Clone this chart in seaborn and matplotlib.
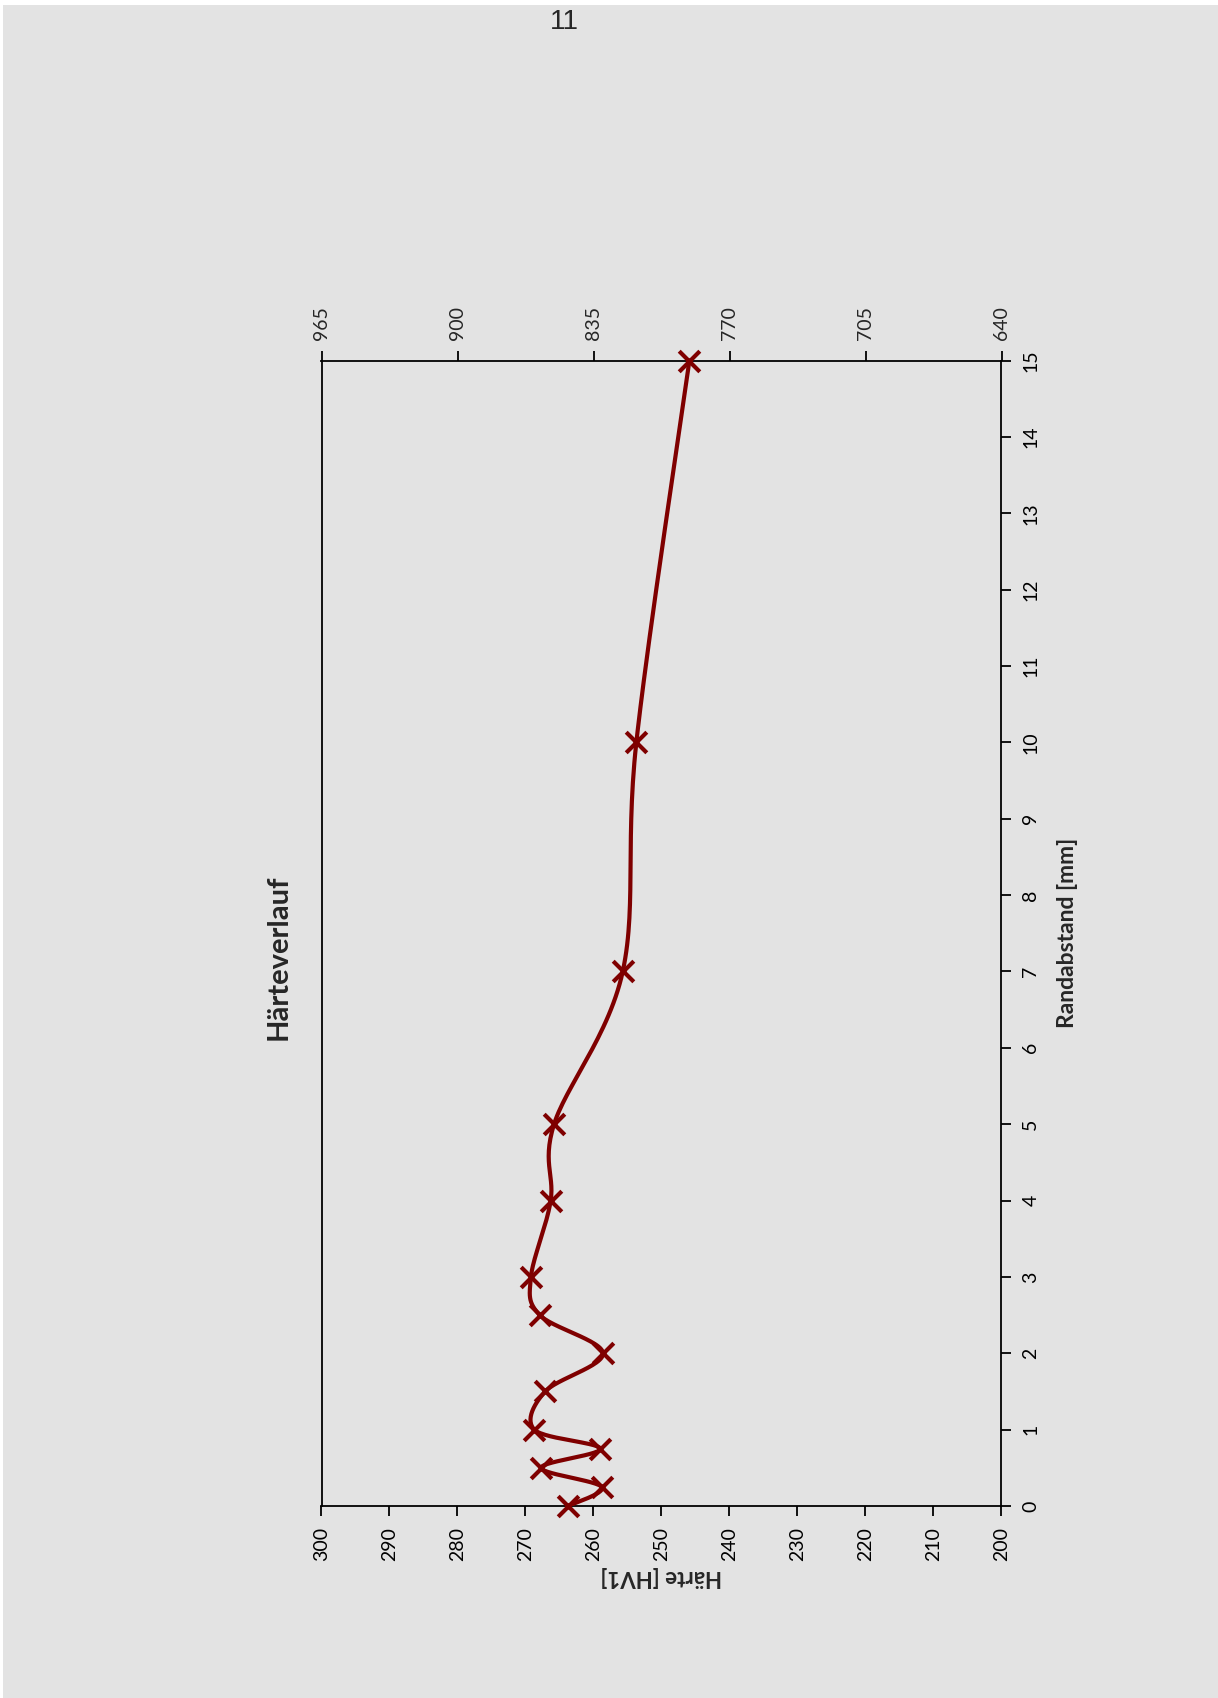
import numpy as np
import pandas as pd
import matplotlib
matplotlib.use("Agg")
import matplotlib.pyplot as plt
from matplotlib.patches import Rectangle
import seaborn as sns

# ---- data ----
randabstand = [0, 0.25, 0.5, 0.75, 1.0, 1.5, 2.0, 2.5, 3.0, 4.0, 5.0, 7.0, 10.0, 15.0]
haerte = [263.7, 258.8, 267.7, 259.0, 268.7, 267.1, 258.6, 267.9, 269.2, 266.3, 265.8, 255.7, 253.7, 245.9]
haerte_ticks = list(range(200, 301, 10))
rand_ticks = list(range(0, 16))
sec_ticks = [965, 900, 835, 770, 705, 640]
title = "Härteverlauf"
xlab = "Randabstand [mm]"
ylab = "Härte [HV1]"
page_no = "11"

BG = "#e3e3e3"
RED = "#7f0000"

sns.set_theme(style="white")
plt.rcParams["font.family"] = ["Lato", "DejaVu Sans"]

W, H = 1218, 1698
fig = plt.figure(figsize=(W / 100, H / 100), dpi=100)
fig.patch.set_facecolor("white")
fig.patches.append(Rectangle((3 / W, 0), 1, 1 - 5 / H, transform=fig.transFigure,
                             facecolor=BG, edgecolor="none", zorder=-10))

left, right, top, bottom = 321.5, 1001.5, 360.5, 1506
ax = fig.add_axes([left / W, 1 - bottom / H, (right - left) / W, (bottom - top) / H])
ax.set_facecolor(BG)

# smooth (Excel-like) curve through the points, built in screen-proportional space
pw, ph = right - left, bottom - top
px = (300 - np.array(haerte)) / 100 * pw
py = np.array(randabstand) / 15 * ph
P = np.column_stack([px, py])
n = len(P)
segs = []
for i in range(n - 1):
    p0 = P[i - 1] if i > 0 else P[i]
    p1, p2 = P[i], P[i + 1]
    p3 = P[i + 2] if i + 2 < n else P[i + 1]
    c1 = p1 + (p2 - p0) / 6
    c2 = p2 - (p3 - p1) / 6
    t = np.linspace(0, 1, 30)[:, None]
    b = (1 - t) ** 3 * p1 + 3 * (1 - t) ** 2 * t * c1 + 3 * (1 - t) * t ** 2 * c2 + t ** 3 * p2
    segs.append(b if i == 0 else b[1:])
curve = np.vstack(segs)
curve_df = pd.DataFrame({"h": 300 - curve[:, 0] / pw * 100, "d": curve[:, 1] / ph * 15})

sns.lineplot(data=curve_df, x="h", y="d", sort=False, estimator=None, ax=ax,
             color=RED, linewidth=3.0, zorder=3)
pts = pd.DataFrame({"h": haerte, "d": randabstand})
sns.scatterplot(data=pts, x="h", y="d", ax=ax, marker="x", s=220, color=RED,
                linewidth=3.0, zorder=4, clip_on=False)

ax.set_xlim(300, 200)
ax.set_ylim(0, 15)
ax.set_xticks(haerte_ticks)
ax.set_yticks(rand_ticks)
ax.yaxis.tick_right()
ax.yaxis.set_label_position("right")
for s in ax.spines.values():
    s.set_visible(True)
    s.set_color("black")
    s.set_linewidth(1.3)
ax.tick_params(axis="both", direction="out", length=7, width=1.3, color="black",
               labelsize=14, labelcolor="black")
ax.tick_params(axis="x", bottom=True, pad=8, labelrotation=90)
ax.tick_params(axis="y", right=True, left=False, pad=8, labelrotation=90)
for lbl in ax.get_yticklabels():
    lbl.set_va("center")
ax.set_xlabel("")
ax.set_ylabel(xlab, fontsize=16.5, fontweight="bold", rotation=90, labelpad=13)

ax2 = ax.twiny()
ax2.set_xlim(965, 640)
ax2.set_xticks(sec_ticks)
ax2.tick_params(axis="x", direction="out", length=7, width=1.3, color="black",
                labelsize=14, labelrotation=90, pad=8, top=True)
for s in ax2.spines.values():
    s.set_visible(False)
ax2.grid(False)
ax.grid(False)

fig.text(661.5 / W, 1 - 1577 / H, ylab, rotation=180, ha="center", va="center",
         fontsize=16, fontweight="bold")
fig.text(279 / W, 1 - 957 / H, title, rotation=90, ha="center", va="center",
         fontsize=21, fontweight="bold")
fig.text(564 / W, 1 - 22 / H, page_no, ha="center", va="center", fontsize=20,
         family=["Liberation Sans", "DejaVu Sans"])

fig.savefig("out.png", dpi=100, facecolor=fig.get_facecolor())
